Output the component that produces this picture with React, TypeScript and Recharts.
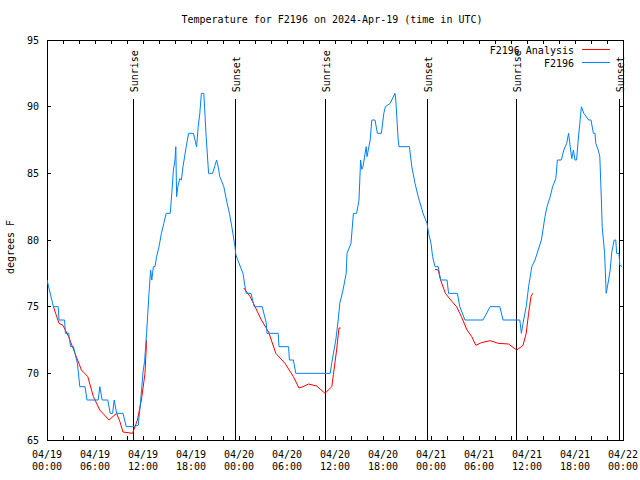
import React from 'react';
import { LineChart, Line, XAxis, YAxis, ReferenceLine, ReferenceArea, Legend } from 'recharts';

const FONT = '"DejaVu Sans Mono", "Liberation Mono", monospace';
const W = 640;
const H = 480;
const PLOT_L = 47;
const PLOT_R = 623;
const PLOT_T = 40;
const PLOT_B = 440;

const TITLE = 'Temperature for F2196 on 2024-Apr-19 (time in UTC)';
const Y_LABEL = 'degrees F';
const SERIES_NAMES = ['F2196 Analysis', 'F2196'];
const SERIES_COLORS = ['#ff0000', '#0080ff'];

// hours since 2024-04-19 00:00 UTC
const obsHours = [
  0, 0.8, 1.4, 1.5, 2.2, 2.3, 2.7, 2.95, 3.3, 3.8, 4.1, 4.75, 5.0, 6.4, 6.6, 6.9, 7.6, 7.9, 8.2, 8.4, 8.7, 9.5, 9.9,
  10.7, 11.4, 11.6, 11.8, 12.0, 12.2, 12.45, 12.6, 12.75, 12.95, 13.1, 13.3, 13.5, 13.7, 14.0, 14.3, 14.6, 14.9,
  15.4, 15.6, 15.8, 16.0, 16.1, 16.2, 16.35, 16.6, 16.8, 17.0, 17.4, 17.7, 18.3, 18.5, 18.7, 18.9, 19.1, 19.3,
  19.6, 19.9, 20.2, 20.7, 21.0, 21.2, 21.4, 21.6, 22.1, 22.5, 22.8, 23.1, 23.5, 23.6, 24.1, 24.5, 24.75, 24.9,
  25.5, 25.9, 26.9, 27.4, 27.5, 28.9, 29.0, 30.2, 30.3, 30.8, 31.1, 35.4, 35.6, 36.1, 36.4, 36.6, 37.0, 37.4,
  37.5, 38.0, 38.3, 38.7, 39.0, 39.2, 39.35, 39.5, 39.9, 40.0, 40.4, 40.6, 41.0, 41.3, 41.8, 42.1, 42.3, 42.9,
  43.5, 43.6, 43.9, 44.0, 45.3, 45.6, 46.0, 46.4, 47.0, 47.5, 47.7, 48.0, 48.2, 48.5, 48.9, 49.2, 50.0, 50.2,
  51.3, 51.6, 52.25, 54.5, 55.4, 56.6, 57.0, 59.1, 59.3, 59.5, 59.9, 60.2, 60.6, 61.0, 61.4, 61.8, 62.25, 62.5,
  62.9, 63.2, 63.6, 63.8, 64.3, 64.6, 64.96, 65.2, 65.4, 65.6, 65.8, 66.0, 66.2, 66.4, 66.6, 66.8, 67.1, 67.7,
  68.0, 68.3, 68.5, 68.6, 68.9, 69.1, 69.3, 69.4, 69.7, 69.9, 70.2, 70.4, 70.6, 70.9, 71.1, 71.2, 71.5, 71.6, 71.9,
];
const obsTemps = [
  77, 75, 75, 74, 74, 73, 73, 72, 72, 70.75, 69, 69, 68, 68, 69, 68, 68, 67, 67, 68, 67, 67, 66,
  66, 66.1, 67.25, 68.6, 70.1, 70.9, 73, 74.5, 76, 77.75, 77, 78, 78, 78.75, 79.5, 80.5, 81.25, 82,
  82, 83.5, 85.25, 86, 87, 83.25, 84, 84.6, 84.5, 85.5, 87, 88, 88, 87.5, 87, 88.5, 89.5, 91,
  91, 87.7, 85, 85, 85.6, 86, 85.5, 84.75, 84, 82.8, 82, 81, 79.5, 78.9, 78.1, 77.5, 76.5, 76,
  76, 75, 75, 73.8, 73, 73, 72, 72, 71, 71, 70, 70, 70.8, 72.5, 74, 75.25, 76.25, 77.5,
  79, 79.75, 82, 82, 83, 86, 85.3, 85.5, 87, 86.25, 87.5, 89, 89, 88, 88, 89.5, 90, 90.25,
  91, 90.5, 87.5, 87, 87, 85.5, 84.25, 83.25, 82, 81.25, 80.5, 79.75, 78.75, 78, 78, 77, 77, 76,
  76, 75, 74, 74, 75, 75, 74, 74, 73, 73.75, 75, 76.5, 78, 78.5, 79.25, 80, 81.75, 82.5,
  83.25, 84, 84.6, 86, 86, 86.75, 87.25, 88, 87, 86.1, 86.75, 86, 86, 87.5, 88.75, 90, 89.5, 89,
  89, 88, 88, 87.25, 86.75, 86.25, 83, 81, 79, 76, 77, 77.75, 79.1, 80, 80, 79, 79, 78.1, 78,
];

const anaHours = [
  0.8, 1.5, 2.0, 2.7, 3.5, 4.3, 4.7, 5.1, 5.8, 6.6, 7.75, 8.7, 9.1, 9.5, 10.7, 11.0, 11.3, 11.8, 12.25, 12.45,
  18,
  24.6, 25.4, 26.0, 26.8, 27.7, 28.6, 29.75, 30.8, 31.5, 32.0, 32.7, 33.7, 34.75, 35.6, 35.8, 36.2, 36.5, 36.7,
  42,
  48.5, 48.9, 49.2, 49.8, 50.6, 51.2, 51.8, 52.5, 53.1, 53.6, 54.3, 55.4, 56.4, 57.7, 58.7, 59.3, 59.5, 59.9,
  60.2, 60.5, 60.7,
];
const anaTemps: (number | null)[] = [
  75, 73.75, 73.6, 72.75, 71.5, 70.25, 70, 69.75, 68.25, 67.25, 66.5, 67, 66.4, 65.6, 65.5, 66, 66.5, 68, 70, 72.5,
  null,
  76.4, 75.75, 75, 74, 73.1, 71.5, 70.75, 69.75, 68.9, 69.0, 69.2, 69.05, 68.5, 69, 69.9, 71.75, 73.4, 73.4,
  null,
  77.8, 77.75, 77, 76, 75.4, 75, 74.25, 73.25, 72.75, 72.1, 72.3, 72.45, 72.25, 72.2, 71.75, 72, 72.1, 73,
  74.5, 75.75, 76,
];

const sunriseHours = [10.78, 34.77, 58.65];
const sunsetHours = [23.52, 47.53, 71.55];
const SUN_LINE_TOP = 90.55;

const xTicks = [0, 2, 4, 6, 8, 10, 12, 14, 16, 18, 20, 22, 24, 26, 28, 30, 32, 34, 36, 38, 40, 42, 44, 46, 48, 50, 52, 54, 56, 58, 60, 62, 64, 66, 68, 70, 72];
const yTicks = [65, 70, 75, 80, 85, 90, 95];

const obsData = obsHours.map((h, i) => ({ h, t: obsTemps[i] }));
const anaData = anaHours.map((h, i) => ({ h, t: anaTemps[i] }));

const pad = (n: number) => (n < 10 ? '0' + n : '' + n);

const XTick = (props: any) => {
  const { x, payload } = props;
  const v = payload.value as number;
  const labeled = v % 6 === 0;
  const day = 19 + Math.floor(v / 24);
  const hr = v % 24;
  return (
    <g>
      <line x1={x} y1={PLOT_B} x2={x} y2={PLOT_B - 4} stroke="#000" shapeRendering="crispEdges" />
      <line x1={x} y1={PLOT_T} x2={x} y2={PLOT_T + 4} stroke="#000" shapeRendering="crispEdges" />
      {labeled && (
        <text x={x} y={PLOT_B + 18} textAnchor="middle" fontFamily={FONT} fontSize={10} fill="#000">
          {'04/' + pad(day)}
        </text>
      )}
      {labeled && (
        <text x={x} y={PLOT_B + 30} textAnchor="middle" fontFamily={FONT} fontSize={10} fill="#000">
          {pad(hr) + ':00'}
        </text>
      )}
    </g>
  );
};

const YTick = (props: any) => {
  const { y, payload } = props;
  return (
    <g>
      <line x1={PLOT_L} y1={y} x2={PLOT_L + 4} y2={y} stroke="#000" shapeRendering="crispEdges" />
      <line x1={PLOT_R} y1={y} x2={PLOT_R - 4} y2={y} stroke="#000" shapeRendering="crispEdges" />
      <text x={PLOT_L - 8} y={y + 3.5} textAnchor="end" fontFamily={FONT} fontSize={10} fill="#000">
        {payload.value}
      </text>
    </g>
  );
};

const YLabel = (props: any) => {
  const vb = props.viewBox || { x: 0, y: PLOT_T, width: PLOT_L, height: PLOT_B - PLOT_T };
  const x = 14;
  const y = vb.y + vb.height / 2 + 7;
  return (
    <text x={x} y={y} transform={`rotate(-90 ${x} ${y})`} textAnchor="middle" fontFamily={FONT} fontSize={10} fill="#000">
      {Y_LABEL}
    </text>
  );
};

const SunLabel = (props: any) => {
  const { viewBox, text } = props;
  const x = viewBox.x + 4.5;
  const y = viewBox.y - 7;
  return (
    <text x={x} y={y} transform={`rotate(-90 ${x} ${y})`} textAnchor="start" fontFamily={FONT} fontSize={10} fill="#000">
      {text}
    </text>
  );
};

const LegendBox = () => (
  <svg width={180} height={30} style={{ display: 'block' }}>
    {SERIES_NAMES.map((name, i) => (
      <g key={name}>
        <text x={134} y={13.5 + i * 13} textAnchor="end" fontFamily={FONT} fontSize={10} fill="#000">
          {name}
        </text>
        <line x1={142} y1={9.5 + i * 13} x2={170} y2={9.5 + i * 13} stroke={SERIES_COLORS[i]} strokeWidth={1} shapeRendering="crispEdges" />
      </g>
    ))}
  </svg>
);

export default function App() {
  return (
    <div style={{ position: 'absolute', left: 0, top: 0, width: W, height: H, background: '#fff' }}>
      <LineChart width={W} height={H} margin={{ top: 40, right: 17, left: 0, bottom: 0 }}>
        <XAxis
          dataKey="h"
          type="number"
          domain={[0, 72]}
          ticks={xTicks}
          interval={0}
          height={40}
          axisLine={false}
          tickLine={false}
          tickSize={0}
          tickMargin={0}
          tick={<XTick />}
          allowDataOverflow
        />
        <YAxis
          type="number"
          domain={[65, 95]}
          ticks={yTicks}
          interval={0}
          width={47}
          axisLine={false}
          tickLine={false}
          tickSize={0}
          tickMargin={0}
          tick={<YTick />}
          label={<YLabel />}
          allowDataOverflow
        />
        <ReferenceArea x1={0} x2={72} y1={65} y2={95} fill="none" stroke="#000" strokeWidth={1} fillOpacity={0} shapeRendering="crispEdges" />
        {sunriseHours.map((h) => (
          <ReferenceLine
            key={'sr' + h}
            segment={[{ x: h, y: SUN_LINE_TOP }, { x: h, y: 65 }]}
            stroke="#000"
            strokeWidth={1}
            shapeRendering="crispEdges"
            label={<SunLabel text="Sunrise" />}
          />
        ))}
        {sunsetHours.map((h) => (
          <ReferenceLine
            key={'ss' + h}
            segment={[{ x: h, y: SUN_LINE_TOP }, { x: h, y: 65 }]}
            stroke="#000"
            strokeWidth={1}
            shapeRendering="crispEdges"
            label={<SunLabel text="Sunset" />}
          />
        ))}
        <Line
          data={anaData}
          dataKey="t"
          name={SERIES_NAMES[0]}
          stroke={SERIES_COLORS[0]}
          strokeWidth={1}
          dot={false}
          activeDot={false}
          connectNulls={false}
          isAnimationActive={false}
          type="linear"
        />
        <Line
          data={obsData}
          dataKey="t"
          name={SERIES_NAMES[1]}
          stroke={SERIES_COLORS[1]}
          strokeWidth={1}
          dot={false}
          activeDot={false}
          isAnimationActive={false}
          type="linear"
        />
        <Legend
          layout="vertical"
          align="center"
          verticalAlign="middle"
          wrapperStyle={{ position: 'absolute', left: 440, top: 40, width: 180, height: 30 }}
          content={() => <LegendBox />}
        />
      </LineChart>
      <svg width={W} height={30} style={{ position: 'absolute', left: 0, top: 0, pointerEvents: 'none' }}>
        <text x={332} y={23} textAnchor="middle" fontFamily={FONT} fontSize={10} fill="#000">
          {TITLE}
        </text>
      </svg>
    </div>
  );
}
